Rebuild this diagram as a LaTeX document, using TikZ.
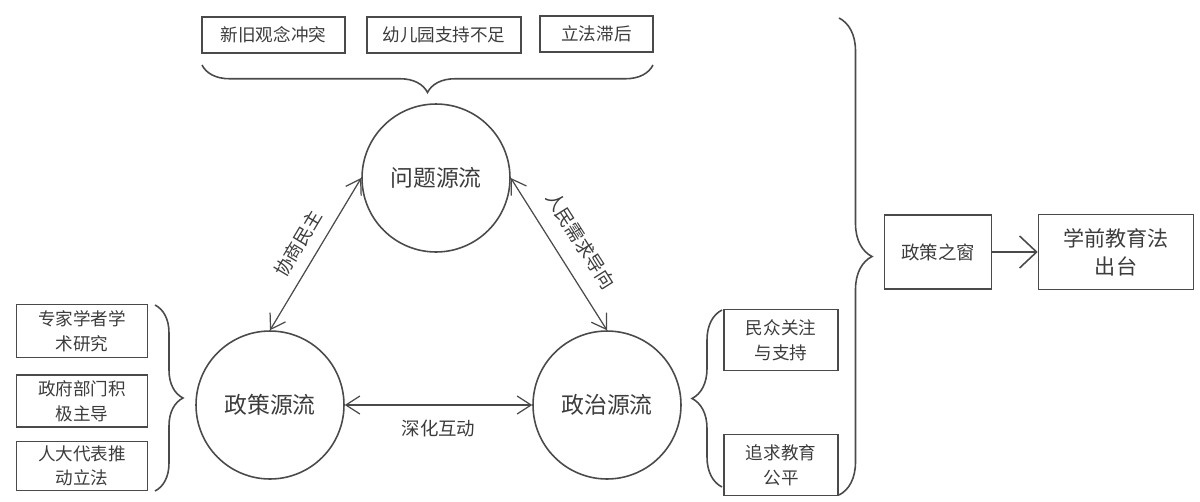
\documentclass[tikz,border=0pt]{standalone}
\usepackage{fontspec}
\setmainfont{Noto Sans CJK SC}
\usetikzlibrary{positioning,arrows.meta,decorations.pathreplacing}
\definecolor{linegray}{HTML}{4A4A4A}
\definecolor{textgray}{HTML}{3C3C3C}

\begin{document}
\begin{tikzpicture}[x=0.02cm,y=0.02cm,
  box/.style={draw=linegray,line width=0.9pt,text=textgray,align=center,inner sep=0pt,font=\fontsize{10}{14}\selectfont},
  stream/.style={draw=linegray,line width=0.9pt,circle,minimum size=2.96cm,text=textgray,font=\fontsize{13}{15}\selectfont},
  link/.style={draw=linegray,line width=0.7pt,{Straight Barb[length=2.8mm,width=3.6mm]}-{Straight Barb[length=2.8mm,width=3.6mm]}},
  lbl/.style={text=textgray,font=\fontsize{10.5}{12}\selectfont},
  bracket/.style={draw=linegray,line width=0.9pt,decorate,decoration={brace,amplitude=#1}}]
  \useasboundingbox (0,0) rectangle (1200,-501);

  % problem stream causes
  \node[box,minimum width=2.86cm,minimum height=0.72cm] (q1) at (273.5,-35) {新旧观念冲突};
  \node[box,minimum width=3.08cm,minimum height=0.72cm] (q2) at (444,-35) {幼儿园支持不足};
  \node[box,minimum width=2.26cm,minimum height=0.72cm] (q3) at (596.5,-34) {立法滞后};
  \draw[bracket=0.55cm] (653,-65) -- (202,-65);

  % three streams
  \node[stream] (wt) at (436,-178) {问题源流};
  \node[stream] (zc) at (270,-405) {政策源流};
  \node[stream] (zz) at (607,-405) {政治源流};
  \draw[link] (wt.west) -- (zc.north) node[midway,lbl,sloped,above=3pt] {协商民主};
  \draw[link] (wt.east) -- (zz.north) node[midway,lbl,sloped,above=6pt] {人民需求导向};
  \draw[link] (zc.east) -- (zz.west) node[midway,lbl,below=5pt] {深化互动};

  % policy stream
  \node[box,minimum width=2.62cm,minimum height=1.06cm] (c1) at (82,-331) {专家学者学\\术研究};
  \node[box,minimum width=2.62cm,minimum height=1.04cm] (c2) at (82,-401) {政府部门积\\极主导};
  \node[box,minimum width=2.62cm,minimum height=0.98cm] (c3) at (82,-466) {人大代表推\\动立法};
  \draw[bracket=0.56cm] (155,-305) -- (155,-491);

  % politics stream
  \node[box,minimum width=2.28cm,minimum height=1.22cm] (p1) at (781,-340) {民众关注\\与支持};
  \node[box,minimum width=2.28cm,minimum height=1.22cm] (p2) at (781,-465) {追求教育\\公平};
  \draw[bracket=0.6cm] (722,-487) -- (722,-310);

  % window
  \draw[bracket=0.66cm] (839,-18) -- (839,-495);
  \node[box,minimum width=2.14cm,minimum height=1.48cm,font=\fontsize{10.5}{14}\selectfont] (win) at (938,-252) {政策之窗};
  \node[box,minimum width=3.1cm,minimum height=1.5cm,font=\fontsize{12}{16}\selectfont] (law) at (1116,-252) {学前教育法\\出台};
  \draw[draw=linegray,line width=0.9pt,-{Straight Barb[length=3.4mm,width=6.4mm]}] (win) -- (law);
\end{tikzpicture}
\end{document}
